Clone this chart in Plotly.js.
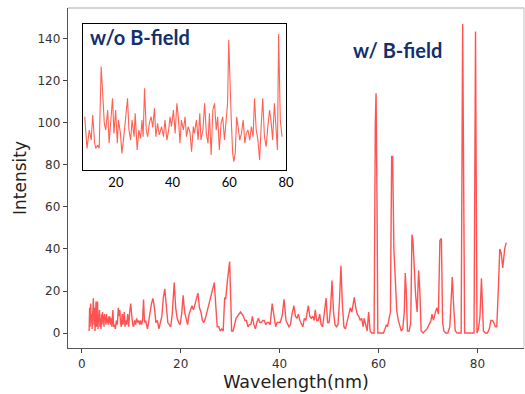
<!DOCTYPE html>
<html>
<head>
<meta charset="utf-8">
<script src="https://cdn.plot.ly/plotly-3.0.1.min.js"></script>
<style>html,body{margin:0;padding:0;background:#fff;}#chart{width:525px;height:394px;}</style>
</head>
<body>
<div id="chart"></div>
<script>
// Main spectrum (with B-field)
const wavelength = [1.5,1.6,1.7,1.8,1.9,2.0,2.1,2.2,2.35,2.5,2.6,2.7,2.8,2.9,3.0,3.1,3.2,3.3,3.4,3.5,3.6,3.7,3.8,3.9,4.0,4.1,4.2,4.3,4.4,4.5,4.6,4.7,4.8,4.9,5.0,5.1,5.2,5.35,5.5,5.6,5.7,5.8,5.95,6.1,6.3,6.45,6.6,6.8,7.0,7.2,7.4,7.55,7.7,7.85,8.0,8.2,8.35,8.6,8.75,8.9,9.1,9.3,9.5,9.7,9.9,10.1,10.3,10.5,10.7,10.9,11.1,11.3,11.5,11.7,11.9,12.1,12.3,12.5,12.7,12.9,13.1,13.3,13.5,13.8,14.1,14.4,14.7,15.0,15.3,15.6,15.9,16.2,16.5,16.8,17.1,17.4,17.7,18.0,18.3,18.7,19.0,19.3,19.6,19.9,20.2,20.5,20.8,21.1,21.4,21.7,22.0,22.3,22.6,22.9,23.2,23.5,23.8,24.1,24.4,24.7,25.0,25.3,25.6,25.9,26.2,26.5,26.8,27.1,27.4,27.7,28.0,28.3,28.6,28.9,29.1,29.5,29.9,30.1,30.3,30.6,30.9,31.2,31.5,31.8,32.1,32.4,32.7,33.0,33.3,33.6,33.9,34.2,34.5,34.8,35.1,35.4,35.7,36.0,36.3,36.6,36.9,37.2,37.5,37.8,38.1,38.5,38.9,39.2,39.5,39.8,40.1,40.5,40.9,41.3,41.6,41.9,42.2,42.5,42.9,43.2,43.5,43.8,44.1,44.4,44.7,45.0,45.3,45.8,46.1,46.4,46.7,47.0,47.2,47.5,47.8,48.1,48.4,48.7,49.0,49.4,49.7,50.0,50.3,50.6,50.9,51.2,51.5,51.8,52.1,52.4,52.7,53.0,53.3,53.6,53.9,54.3,54.6,55.1,55.4,55.7,56.0,56.3,56.6,56.9,57.1,57.4,57.7,58.0,58.3,58.6,59.1,59.35,59.5,59.7,59.85,60.2,60.6,61.0,61.3,61.6,61.8,62.1,62.4,62.65,62.85,63.1,63.4,63.7,64.0,64.3,64.6,64.9,65.2,65.4,65.6,65.85,66.2,66.5,66.75,66.95,67.2,67.5,67.8,68.1,68.35,68.6,69.0,69.4,69.8,70.2,70.6,70.8,71.1,71.5,71.8,72.1,72.4,72.7,72.95,73.2,73.6,74.0,74.4,74.6,74.9,75.2,75.5,75.9,76.4,76.7,77.0,77.4,77.8,78.4,79.0,79.3,79.6,79.9,80.2,80.5,80.8,81.0,81.2,81.6,82.0,82.4,82.7,83.0,83.3,83.6,83.9,84.2,84.5,84.8,85.1,85.5,85.8];
const intensity = [1,12,3,14,5,9,2,15,16.5,4,12,1,8,15,3,10,15,2,9,5,11,3,7,2,9,4,10,5,8,3,9,6,8,4,9,5,7,4,8,5,8,4,7,3,11,3,4,2,6,4,12,8,11,5,3,9,4,10,3,6,4,9,3,10,14,9,4,3,6,4,7,5,6,4,6,4,6,16,5,6,3,2,5,10,14,16.5,12,5,6,2,6,8,17,21,13,5,4,3,9,24,12,7,5,4,9,18,10,6,4,9,11,13,11,14,17,19,12,10,6,5,7,10,13,16,19,22,24,13,3,3,1,2,1,17,16,26,34,18,1,1,4,7,8,9,10,9,8,6,6,3,4,4,8,4,2,5,7,5,5,6,6,4,5,5,4,14,6,3,5,5,5,8,16,6,4,3,4,9,13,8,7,9,6,4,3,7,6,13,8,7,8,6,11,6,6,9,4,3,9,16.7,5,5,12,25,10,4,3,4,15,32,13,3,2,5,7,12,10,17,12,9,8,6,7,3,7,4,1,10,1,0,0,100,114,60,0,0,0,0,2,4,3,6,10,84,84,40,20,10,6,3,1,2,10,28.6,20,1,1,5,46.8,44,30,18,10,29.8,20,1,0,1,2,4,6,9,6,10,12,9,44,45,5,1,0,0,3,12,26.7,12,1,0,0,0,147,0,0,0,0,0,143.4,0,2,8,26,12,1,0,0,2,6,6,5,3,3,20,40,38,31,40,43];

// Inset spectrum (without B-field), arbitrary units
const insetWavelength = [9.0,9.8,10.6,11.3,11.8,12.5,12.9,13.6,14.1,14.8,15.4,15.9,16.4,17.1,17.6,18.3,18.8,19.3,19.9,20.5,20.9,21.6,22.1,22.9,23.5,24.1,24.6,25.2,25.7,26.4,26.8,27.5,28.1,28.7,29.2,29.6,30.1,30.7,31.2,31.8,32.4,33.0,33.6,34.1,34.7,35.3,36.1,36.8,37.3,38.0,38.6,39.1,39.6,40.3,40.9,41.5,42.0,42.6,43.1,43.8,44.4,44.9,45.5,46.1,46.7,47.3,47.7,48.4,49.0,49.6,50.0,50.7,51.3,51.9,52.5,53.0,53.6,54.2,54.8,55.4,55.9,56.5,57.1,57.7,58.3,58.8,59.4,59.8,60.2,60.7,61.2,61.6,62.1,62.6,63.1,63.7,64.3,64.9,65.5,66.0,66.6,67.2,67.8,68.4,68.9,69.5,70.1,70.7,71.3,71.8,72.4,73.0,73.6,74.2,74.7,75.3,75.9,76.5,77.0,77.4,78.0,78.6];
const insetIntensity = [36.5,14.8,27.4,20.5,37.7,18.3,14.8,17.1,14.8,70.8,50.2,31.9,27.4,41.1,18.3,37.7,49.1,25.1,41.1,18.3,34.2,25.1,11.4,25.1,38.8,49.1,27.4,20.5,34.2,22.8,38.8,13.7,27.4,21.7,34.2,22.8,55.9,27.4,22.8,31.9,36.5,29.2,42.2,22.8,31.9,24.0,29.7,22.8,34.2,20.5,27.4,36.5,29.7,41.1,25.1,45.7,36.5,18.3,34.2,27.4,36.5,22.8,29.7,26.2,12.6,29.7,25.1,34.2,20.5,38.8,20.5,27.4,45.7,25.1,18.3,38.8,10.3,41.1,45.7,27.4,36.5,13.7,31.9,36.5,20.5,34.2,45.7,89.0,59.4,34.2,11.4,5.7,11.4,36.5,29.7,20.5,25.1,34.2,18.3,25.1,27.4,20.5,29.7,22.8,49.1,27.4,20.5,6.8,31.9,49.1,22.8,16.0,29.7,41.1,34.2,20.5,45.7,29.7,13.7,93.2,34.2,22.8];

const xTicks = [0,20,40,60,80];
const yTicks = [0,20,40,60,80,100,120,140];
const insetTicks = [20,40,60,80];

const traces = [
  {x: wavelength, y: intensity, type: 'scatter', mode: 'lines',
   line: {color: 'rgba(255,0,0,0.68)', width: 1.4}, xaxis: 'x', yaxis: 'y', hoverinfo: 'skip'},
  {x: insetWavelength, y: insetIntensity, type: 'scatter', mode: 'lines',
   line: {color: 'rgba(255,30,10,0.7)', width: 1.1}, xaxis: 'x2', yaxis: 'y2', hoverinfo: 'skip'}
];

const tickFont = {family: 'DejaVu Sans', size: 12, color: '#333'};
const layout = {
  width: 525, height: 394,
  margin: {l: 68, r: 1, t: 8, b: 46},
  paper_bgcolor: '#fff', plot_bgcolor: '#fff',
  showlegend: false,
  xaxis: {
    domain: [0, 1], range: [-2.77, 89.4], tickvals: xTicks, ticks: 'outside', ticklen: 4, tickcolor: '#444',
    showline: true, linecolor: '#555', linewidth: 1.2, mirror: false, showgrid: false, zeroline: false,
    tickfont: tickFont,
    title: {text: 'Wavelength(nm)', font: {family: 'DejaVu Sans', size: 17.5, color: '#222'}, standoff: 6}
  },
  yaxis: {
    domain: [0, 1], range: [-7.1, 154.6], tickvals: yTicks, ticks: 'outside', ticklen: 4, tickcolor: '#444',
    showline: true, linecolor: '#555', linewidth: 1.2, showgrid: false, zeroline: false,
    tickfont: tickFont,
    title: {text: 'Intensity', font: {family: 'DejaVu Sans', size: 17, color: '#222'}, standoff: 6}
  },
  xaxis2: {
    domain: [0.0336, 0.478], anchor: 'y2', range: [8.5, 80], tickvals: insetTicks, ticks: '',
    showline: true, linecolor: '#000', linewidth: 1.3, mirror: true, showgrid: false, zeroline: false,
    tickfont: {family: 'Lato', size: 13, color: '#000'}
  },
  yaxis2: {
    domain: [0.5235, 0.953], anchor: 'x2', range: [0, 100], showticklabels: false, ticks: '',
    showline: true, linecolor: '#000', linewidth: 1.3, mirror: true, showgrid: false, zeroline: false
  },
  shapes: [
    {type: 'line', xref: 'paper', yref: 'paper', x0: 0, x1: 1, y0: 1, y1: 1, line: {color: '#aaa', width: 1.2}},
    {type: 'line', xref: 'paper', yref: 'paper', x0: 1, x1: 1, y0: 0, y1: 1, line: {color: '#ccc', width: 1.2}}
  ],
  annotations: [
    {text: '<b>w/o B-field</b>', xref: 'paper', yref: 'paper', x: 0.044, y: 0.915, xanchor: 'left', yanchor: 'middle',
     showarrow: false, font: {family: 'Lato', size: 20, color: '#12306b'}},
    {text: '<b>w/ B-field</b>', xref: 'paper', yref: 'paper', x: 0.722, y: 0.877, xanchor: 'center', yanchor: 'middle',
     showarrow: false, font: {family: 'Lato', size: 20, color: '#12306b'}}
  ]
};

Plotly.newPlot('chart', traces, layout, {displayModeBar: false, staticPlot: true});
</script>
</body>
</html>
